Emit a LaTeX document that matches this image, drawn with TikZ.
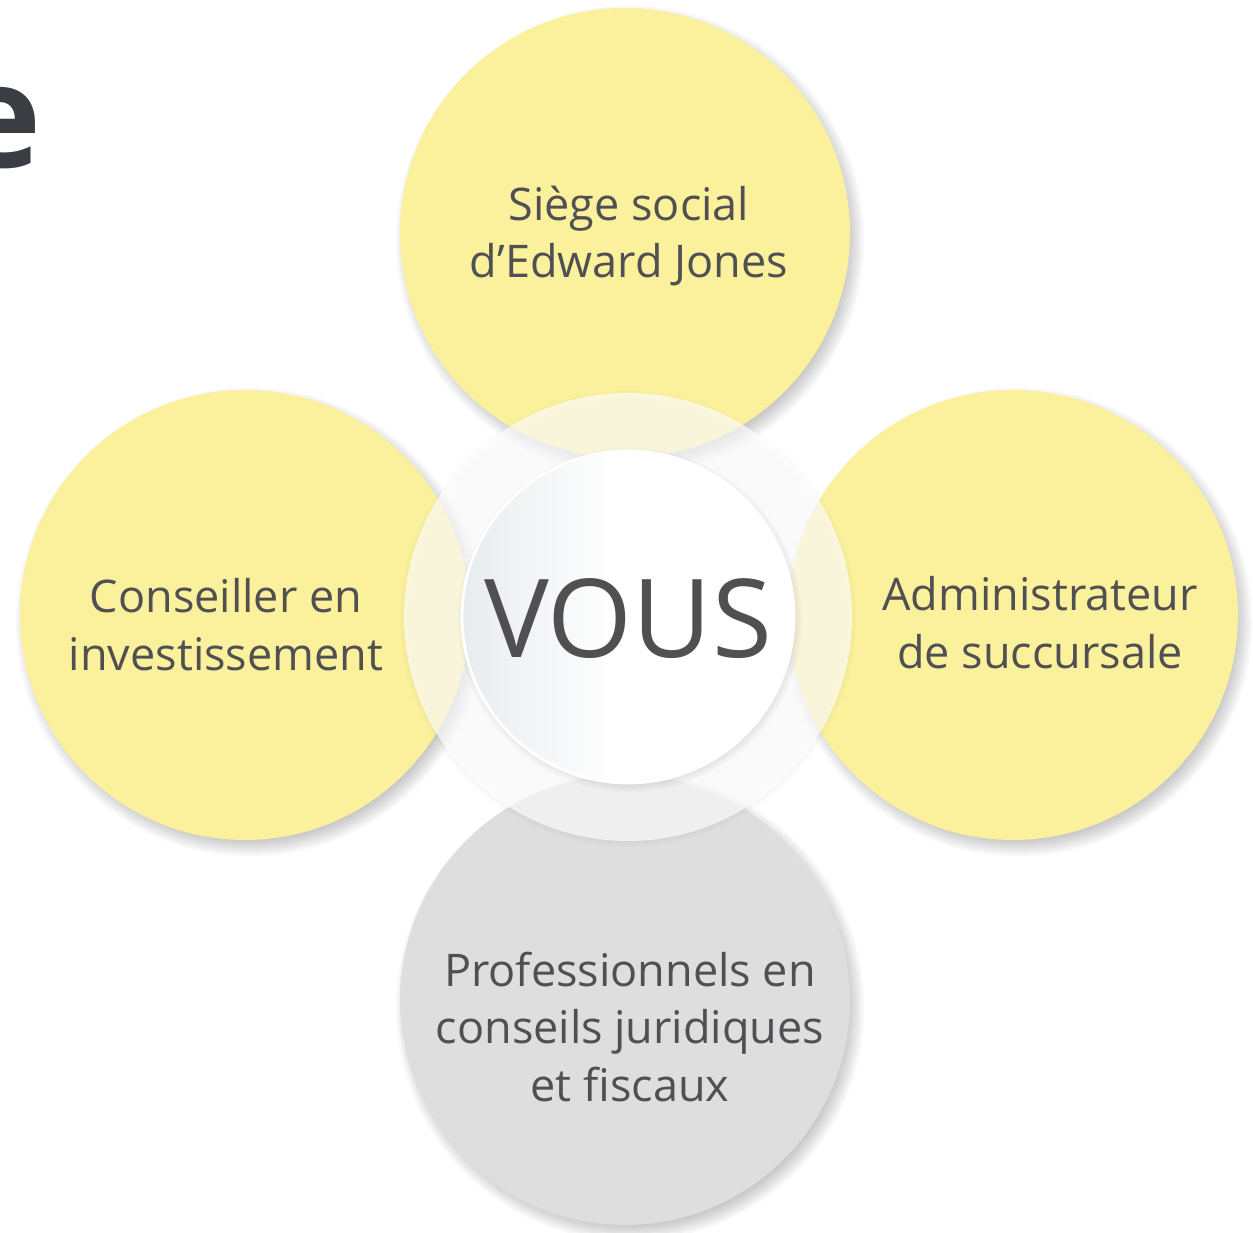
\documentclass[tikz,border=0pt]{standalone}
\usepackage{fontspec}
\setmainfont{Open Sans}
\usetikzlibrary{positioning}
\definecolor{bubbleyellow}{RGB}{251,240,155}
\definecolor{bubblegray}{RGB}{222,222,222}
\definecolor{textgray}{RGB}{80,80,83}
\definecolor{titlegray}{RGB}{58,61,66}
\definecolor{vousgray}{RGB}{208,214,220}
\pgfdeclarehorizontalshading{vousfade}{100bp}{color(0bp)=(vousgray); color(48bp)=(white); color(100bp)=(white)}
\tikzset{every node/.style={ % Sets the properties for each text
            text=textgray,
            font=\fontsize{12.8pt}{16.5pt}\selectfont,
            align=center},
        bubble/.style={ % Outer circles
            circle,
            minimum size=4.5cm,
            inner sep=0pt},
        ring/.style={ % Translucent ring round the middle
            circle,
            minimum size=4.48cm,
            inner sep=0pt,
            fill=white,
            fill opacity=0.68},
        core/.style={ % Middle circle
            circle,
            minimum size=3.32cm,
            inner sep=0pt,
            shading=vousfade,
            draw=white, thick},
        shadowfill/.style={ % One step of a soft shadow
            fill=black,
            opacity=0.032}
        }
\begin{document}
\begin{tikzpicture}
    \useasboundingbox (0,0) rectangle (12.53,12.32);
    \fill[white] (0,0) rectangle (12.53,12.32);

    \coordinate (siegec) at (6.25,9.99);
    \coordinate (conseillerc) at (2.45,6.17);
    \coordinate (adminc) at (10.13,6.17);
    \coordinate (prosc) at (6.25,2.32);
    \coordinate (vousc) at (6.28,6.15);

    % soft shadows
    \foreach \c in {siegec,conseillerc,adminc,prosc}
        \foreach \r in {2.14,2.165,...,2.34}
            \fill[shadowfill] ([xshift=0.05cm,yshift=-0.07cm]\c) circle (\r);

    \node[bubble, fill=bubbleyellow] (siege) at (siegec) {};
    \node[bubble, fill=bubbleyellow] (conseiller) at (conseillerc) {};
    \node[bubble, fill=bubbleyellow] (admin) at (adminc) {};
    \node[bubble, fill=bubblegray] (pros) at (prosc) {};

    \foreach \r in {2.2,2.22,...,2.3}
        \fill[shadowfill, opacity=0.012] ([yshift=-0.02cm]vousc) circle (\r);
    \node[ring] (anneau) at (vousc) {};

    \foreach \r in {1.6,1.62,...,1.72}
        \fill[shadowfill, opacity=0.02] ([xshift=0.02cm,yshift=-0.03cm]vousc) circle (\r);
    \node[core] (vous) at (vousc) {};

    \node at ([xshift=0.04cm,yshift=-0.03cm]siege.center) {Siège social\\d’Edward Jones};
    \node at ([xshift=-0.19cm,yshift=-0.1cm]conseiller.center) {Conseiller en\\investissement};
    \node at ([xshift=0.27cm,yshift=-0.08cm]admin.center) {Administrateur\\de succursale};
    \node at ([xshift=0.05cm,yshift=-0.27cm]pros.center) {Professionnels en\\conseils juridiques\\et fiscaux};
    \node[font=\fontsize{31pt}{36pt}\selectfont] at ([yshift=-0.02cm]vous.center) {VOUS};

    \node[anchor=base east, inner sep=0pt, text=titlegray, font=\fontsize{41pt}{48pt}\selectfont\bfseries] (titre) at (0.42,10.64) {e};
\end{tikzpicture}
\end{document}
